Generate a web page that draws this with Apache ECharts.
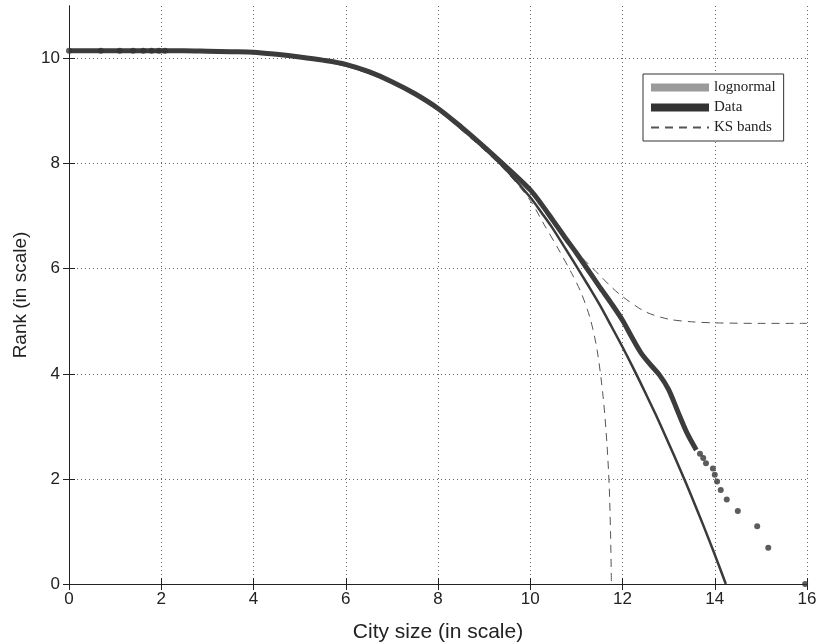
<!DOCTYPE html>
<html><head><meta charset="utf-8">
<script src="https://cdn.jsdelivr.net/npm/echarts@6/dist/echarts.min.js"></script>
<style>html,body{margin:0;padding:0;background:#fff}#c{width:821px;height:644px}</style>
</head><body><div id="c"></div>
<script>
// x = log city size, y = log rank
const lognormalX = [0, 2, 3, 4, 5, 5.5, 6, 6.5, 7, 7.5, 8, 8.5, 9, 9.5, 10, 10.25, 10.5, 10.75, 11, 11.25, 11.5, 11.75, 12, 12.25, 12.5, 12.75, 13, 13.25, 13.5, 13.75, 14, 14.24];
const lognormalY = [10.15, 10.148, 10.141, 10.114, 10.037, 9.966, 9.865, 9.727, 9.547, 9.318, 9.04, 8.70, 8.30, 7.86, 7.36, 7.06, 6.75, 6.40, 6.05, 5.69, 5.32, 4.92, 4.51, 4.08, 3.63, 3.17, 2.68, 2.18, 1.66, 1.12, 0.56, 0.0];

const dataX = [0, 0.69, 1.10, 1.39, 1.61, 1.79, 1.95, 2.08, 2.5, 3, 3.5, 4, 4.5, 5, 5.5, 6, 6.5, 7, 7.5, 8, 8.5, 9, 9.5, 10, 10.25, 10.5, 10.75, 11, 11.25, 11.5, 11.75, 12, 12.2, 12.4, 12.6, 12.8, 13.0, 13.2, 13.4, 13.6];
const dataY = [10.15, 10.15, 10.15, 10.15, 10.15, 10.15, 10.15, 10.15, 10.15, 10.14, 10.13, 10.12, 10.08, 10.03, 9.97, 9.89, 9.75, 9.56, 9.33, 9.05, 8.70, 8.32, 7.92, 7.50, 7.22, 6.91, 6.60, 6.30, 5.98, 5.66, 5.35, 5.02, 4.70, 4.40, 4.18, 3.98, 3.70, 3.28, 2.87, 2.55];

// individual points drawn as dots (smallest cities and largest cities)
const dotX = [0, 0.69, 1.10, 1.39, 1.61, 1.79, 1.95, 2.08, 13.68, 13.75, 13.81, 13.96, 14.0, 14.05, 14.13, 14.26, 14.5, 14.92, 15.16, 15.96];
const dotY = [10.15, 10.15, 10.15, 10.15, 10.15, 10.15, 10.15, 10.15, 2.48, 2.40, 2.30, 2.20, 2.08, 1.95, 1.79, 1.61, 1.39, 1.10, 0.69, 0.0];

const ksUpperX = [8, 9, 9.5, 10, 10.5, 11, 11.25, 11.5, 11.75, 12, 12.5, 13, 13.5, 14, 15, 16];
const ksUpperY = [9.06, 8.34, 7.93, 7.47, 6.91, 6.32, 6.10, 5.88, 5.66, 5.47, 5.18, 5.04, 4.99, 4.97, 4.96, 4.96];

const ksLowerX = [8, 9, 9.5, 10, 10.3, 10.6, 10.9, 11.1, 11.3, 11.45, 11.58, 11.66, 11.71, 11.74, 11.76];
const ksLowerY = [9.02, 8.26, 7.83, 7.30, 6.84, 6.39, 5.91, 5.55, 5.05, 4.45, 3.56, 2.70, 1.90, 1.00, 0.0];

const xTicks = [0, 2, 4, 6, 8, 10, 12, 14, 16];
const yTicks = [0, 2, 4, 6, 8, 10];

const zip = (a, b) => a.map((v, i) => [v, b[i]]);

const chart = echarts.init(document.getElementById('c'), null, {renderer: 'canvas'});
const font = 'Liberation Sans, Arial, sans-serif';
const gridLine = {show: true, lineStyle: {color: '#666', width: 1, type: [1, 3]}};
const axisLineBlack = {show: true, lineStyle: {color: '#222', width: 1}};
const tickIn = (vals) => ({show: true, inside: true, length: 6, customValues: vals, lineStyle: {color: '#222'}});
chart.setOption({
  animation: false,
  backgroundColor: '#fff',
  grid: {left: 69, right: 14, top: 6, bottom: 60, containLabel: false, outerBoundsMode: 'none'},
  legend: {
    orient: 'vertical', left: 643, top: 74,
    itemWidth: 58, itemHeight: 8, itemGap: 5,
    padding: [6, 8, 6, 7],
    borderColor: '#333', borderWidth: 1, backgroundColor: '#fff',
    textStyle: {fontFamily: 'Liberation Serif, Times New Roman, serif', fontSize: 15, color: '#222'},
    data: [
      {name: 'lognormal', icon: 'rect', itemStyle: {color: '#9a9a9a'}},
      {name: 'Data', icon: 'rect', itemStyle: {color: '#333'}},
      {name: 'KS bands', itemStyle: {opacity: 0}}
    ]
  },
  xAxis: [{
    type: 'value', min: 0, max: 16, interval: 2,
    name: 'City size (in scale)', nameLocation: 'middle', nameGap: 38,
    nameTextStyle: {fontFamily: font, fontSize: 21, color: '#222'},
    axisLine: axisLineBlack,
    axisTick: tickIn(xTicks),
    axisLabel: {fontFamily: font, fontSize: 17, color: '#222', margin: 7, customValues: xTicks},
    splitLine: gridLine
  }, {
    type: 'value', min: 0, max: 16, interval: 2, position: 'top',
    axisLine: axisLineBlack,
    axisTick: tickIn(xTicks),
    axisLabel: {show: false}, splitLine: {show: false}
  }],
  yAxis: [{
    type: 'value', min: 0, max: 11, interval: 2,
    name: 'Rank (in scale)', nameLocation: 'middle', nameGap: 36,
    nameTextStyle: {fontFamily: font, fontSize: 19, color: '#222'},
    axisLine: axisLineBlack,
    axisTick: tickIn(yTicks),
    axisLabel: {fontFamily: font, fontSize: 17, color: '#222', margin: 9, customValues: yTicks,
      formatter: v => (yTicks.indexOf(v) >= 0 ? String(v) : '')},
    splitLine: gridLine
  }, {
    type: 'value', min: 0, max: 11, interval: 2, position: 'right',
    axisLine: axisLineBlack,
    axisTick: tickIn(yTicks),
    axisLabel: {show: false}, splitLine: {show: false}
  }],
  series: [
    {name: 'KS bands', type: 'line', data: zip(ksUpperX, ksUpperY), symbol: 'none', smooth: 0.3,
      lineStyle: {color: '#555', width: 1, type: [8, 6]}, itemStyle: {color: '#555'}, z: 2},
    {name: 'KS bands', type: 'line', data: zip(ksLowerX, ksLowerY), symbol: 'none', smooth: 0.3,
      lineStyle: {color: '#555', width: 1, type: [8, 6]}, itemStyle: {color: '#555'}, z: 2},
    {name: 'lognormal', type: 'line', data: zip(lognormalX, lognormalY), symbol: 'none', smooth: 0.3,
      lineStyle: {color: '#3a3a3a', width: 2.5}, itemStyle: {color: '#3a3a3a'}, z: 3},
    {name: 'Data', type: 'line', data: zip(dataX, dataY), symbol: 'none', smooth: 0.3,
      lineStyle: {color: '#3c3c3c', width: 5}, itemStyle: {color: '#333'}, z: 4},
    {name: 'dots', type: 'scatter', data: zip(dotX, dotY), symbol: 'circle', symbolSize: 6,
      itemStyle: {color: '#333'}, z: 5}
  ]
});
</script></body></html>
